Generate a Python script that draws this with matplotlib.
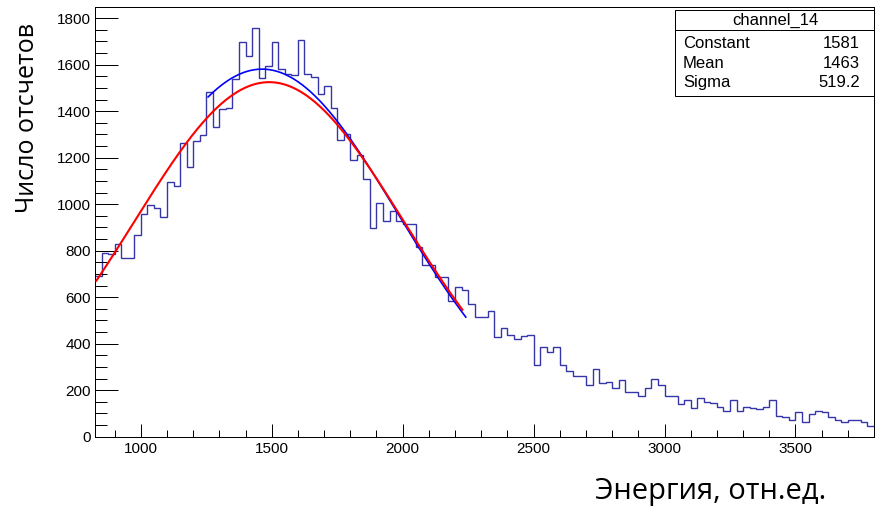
import numpy as np
import matplotlib
matplotlib.use("Agg")
import matplotlib.pyplot as plt
from matplotlib.patches import Rectangle
from matplotlib.ticker import MultipleLocator

# histogram: 25-unit bins from 825 to 3800
bin_lo = 825
bin_w = 25
counts = [691, 789, 784, 827, 767, 767, 867, 956, 995, 985,
          944, 1094, 1078, 1265, 1159, 1270, 1296, 1483, 1332, 1411,
          1414, 1540, 1696, 1639, 1759, 1544, 1596, 1696, 1583, 1560,
          1554, 1705, 1560, 1548, 1475, 1507, 1414, 1275, 1300, 1191,
          1210, 1107, 896, 1004, 926, 969, 928, 913, 913, 816,
          737, 737, 686, 686, 584, 643, 629, 570, 515, 515,
          540, 429, 468, 438, 420, 433, 439, 308, 385, 366,
          385, 308, 282, 260, 260, 222, 290, 230, 234, 209,
          242, 192, 192, 177, 209, 250, 224, 173, 173, 140,
          157, 122, 165, 148, 144, 129, 111, 158, 111, 129,
          125, 121, 129, 156, 89, 83, 70, 105, 63, 98,
          111, 105, 86, 73, 63, 70, 73, 62, 46]

# gaussian fits (constant, mean, sigma, x range)
fit_blue = (1581, 1463, 519.2, 1257, 2241)
fit_red = (1525, 1490, 515, 830, 2228)

stat_title = "channel_14"
stat_names = ["Constant", "Mean", "Sigma"]
stat_values = ["1581", "1463", "519.2"]

W, H = 891, 508


def fx(x):
    return x / W


def fy(y):
    return 1 - y / H


def gaus(p):
    a, m, s, x0, x1 = p
    x = np.linspace(x0, x1, 400)
    return x, a * np.exp(-0.5 * ((x - m) / s) ** 2)


edges = bin_lo + bin_w * np.arange(len(counts) + 1)

fig = plt.figure(figsize=(W / 100, H / 100), dpi=100)
ax = fig.add_axes([fx(95), fy(436.7), fx(874) - fx(95), fy(7.3) - fy(436.7)])

ax.stairs(counts, edges, baseline=None, color="#3535a8", lw=1.0)
xb, yb = gaus(fit_blue)
ax.plot(xb, yb, color="#0000ff", lw=1.2, zorder=3)
xr, yr = gaus(fit_red)
ax.plot(xr, yr, color="#ff0000", lw=1.5, zorder=4)

ax.set_xlim(825, 3800)
ax.set_ylim(0, 1.05 * max(counts))

ax.xaxis.set_major_locator(MultipleLocator(500))
ax.xaxis.set_minor_locator(MultipleLocator(100))
ax.yaxis.set_major_locator(MultipleLocator(200))
ax.yaxis.set_minor_locator(MultipleLocator(50))

ax.tick_params(which="both", direction="in", width=0.72, top=False, right=False,
               labelsize=11, colors="black")
ax.tick_params(axis="x", which="major", length=9.4, pad=4)
ax.tick_params(axis="x", which="minor", length=4.7)
ax.tick_params(axis="y", which="major", length=16.6, pad=3)
ax.tick_params(axis="y", which="minor", length=8.3)
for lab in ax.get_xticklabels() + ax.get_yticklabels():
    lab.set_family("Liberation Sans")
for sp in ax.spines.values():
    sp.set_linewidth(0.72)
    sp.set_color("black")

# stats box
fig.patches.append(Rectangle((fx(675), fy(96)), fx(874) - fx(675), fy(10) - fy(96),
                             transform=fig.transFigure, facecolor="white",
                             edgecolor="black", lw=0.72, zorder=5))
fig.add_artist(plt.Line2D([fx(675), fx(874)], [fy(30), fy(30)],
                          transform=fig.transFigure, color="black", lw=0.72, zorder=6))
fig.text(fx(775), fy(20), stat_title, ha="center", va="center", fontsize=12,
         family="Liberation Sans", zorder=6)
for i, (n, v) in enumerate(zip(stat_names, stat_values)):
    yy = fy(43 + 20 * i)
    fig.text(fx(683), yy, n, ha="left", va="center", fontsize=12,
             family="Liberation Sans", zorder=6)
    fig.text(fx(860), yy, v, ha="right", va="center", fontsize=12,
             family="Liberation Sans", zorder=6)

fig.text(fx(28), fy(118), "Число отсчетов", rotation=90, ha="center", va="center",
         fontsize=18, family="Open Sans")
fig.text(fx(711), fy(492), "Энергия, отн.ед.", ha="center", va="center",
         fontsize=21, family="Open Sans")

fig.savefig("out.png", dpi=100)
